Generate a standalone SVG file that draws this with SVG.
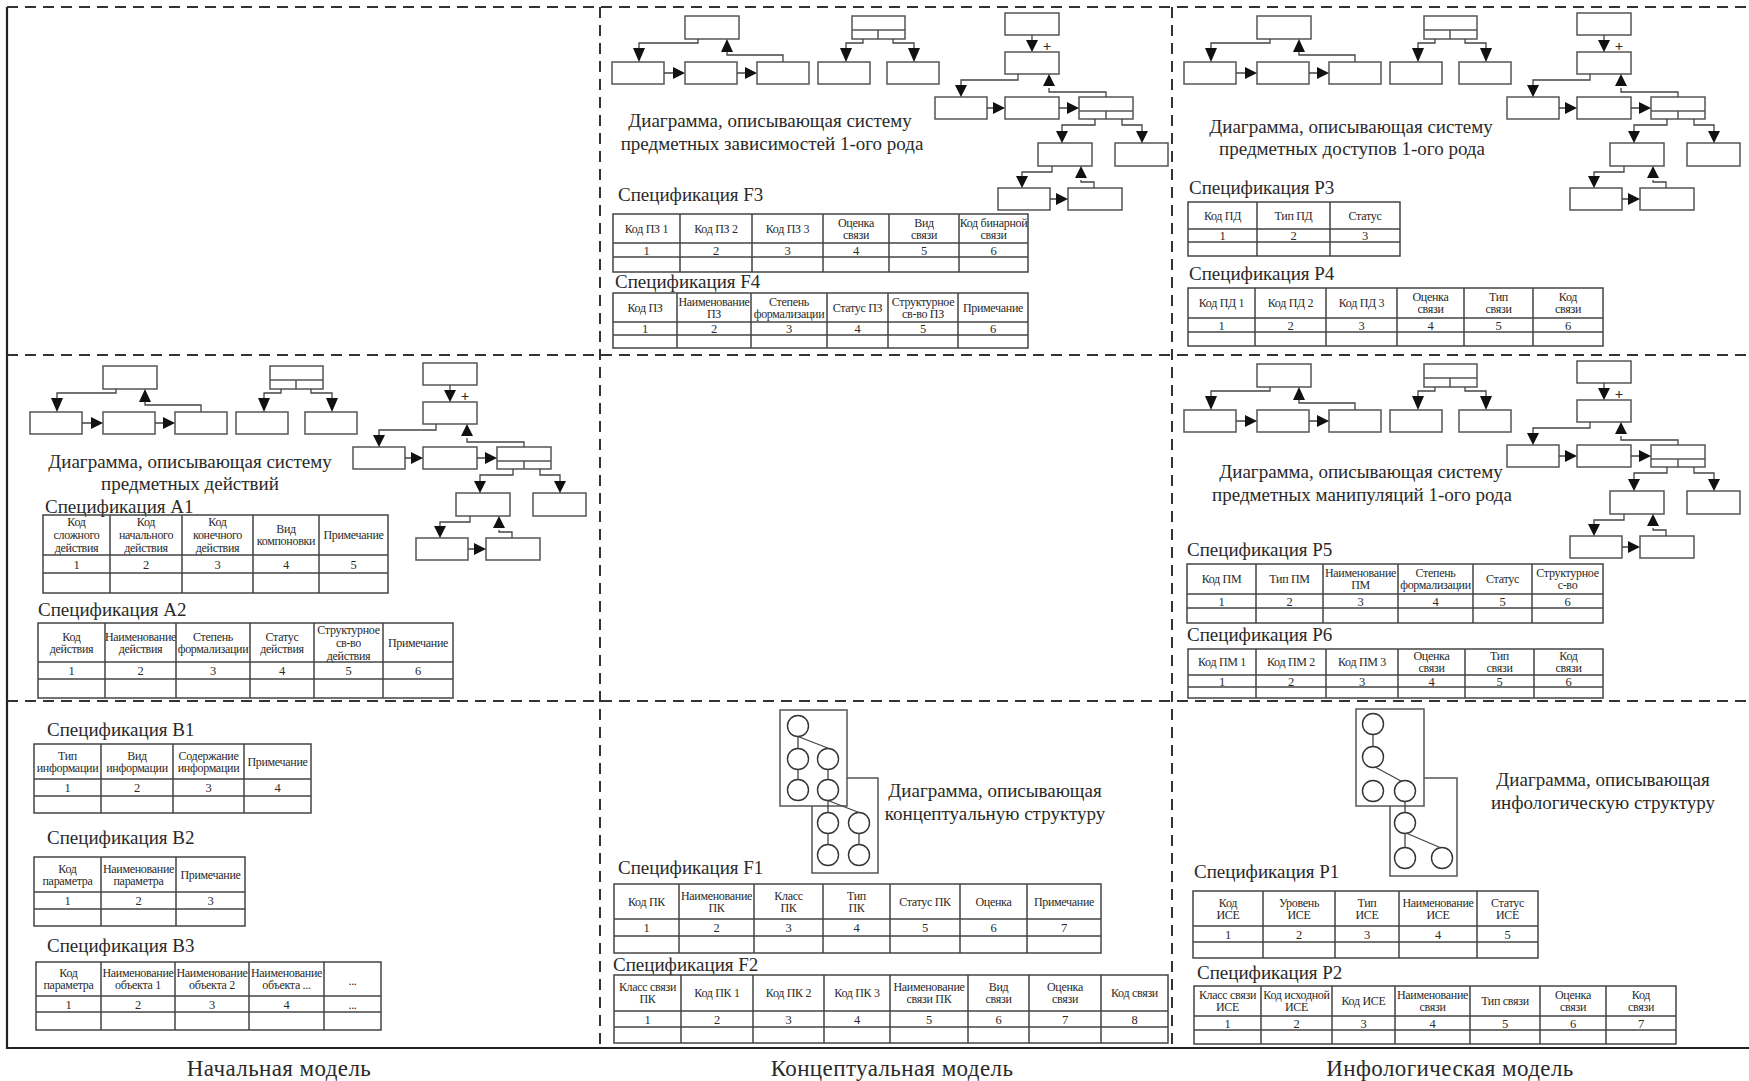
<svg xmlns="http://www.w3.org/2000/svg" width="1749" height="1081" viewBox="0 0 1749 1081">
<style>
.fr{stroke:#222;stroke-width:2.2;fill:none}
.dash{stroke:#333;stroke-width:2;stroke-dasharray:11 7;fill:none}
.bx{fill:#fff;stroke:#555;stroke-width:1.5}
.bl{stroke:#555;stroke-width:1.5;fill:none}
.cn{stroke:#444;stroke-width:1.3;fill:none}
.ah{fill:#111;stroke:none}
.tb{fill:none;stroke:#444;stroke-width:1.5}
.ci{fill:none;stroke:#333;stroke-width:1.4}
text{font-family:"Liberation Serif","Times New Roman",serif;fill:#2a2a2a}
.h{font-size:12px;text-anchor:middle;letter-spacing:-0.3px}
.n{font-size:12.5px;text-anchor:middle}
.sp{font-size:19px}
.tt{font-size:19px;text-anchor:middle}
.lb{font-size:23px;text-anchor:middle;letter-spacing:0.4px}
.pl{font-size:15px;font-weight:bold;text-anchor:middle}
</style>
<defs>
<g id="tree">
<rect class="bx" x="85" y="16" width="54" height="23"/>
<rect class="bx" x="12" y="62" width="52" height="22"/>
<rect class="bx" x="85" y="62" width="52" height="22"/>
<rect class="bx" x="157" y="62" width="52" height="22"/>
<path class="cn" d="M98 39V43H39V50M183 62V55H127V52M64 73H74M137 73H146"/>
<path class="ah" d="M33 48H45L39 62ZM121 52H133L127 39ZM73 67V79L85 73ZM145 67V79L157 73Z"/>
<rect class="bx" x="252" y="16" width="53" height="23"/>
<path class="bl" d="M252 30H305M278 30V39"/>
<rect class="bx" x="218" y="62" width="52" height="22"/>
<rect class="bx" x="287" y="62" width="52" height="22"/>
<path class="cn" d="M263 39V43H246V50M293 39V43H314V50"/>
<path class="ah" d="M240 48H252L246 62ZM308 48H320L314 62Z"/>
<rect class="bx" x="405" y="13" width="54" height="22"/>
<rect class="bx" x="405" y="52" width="54" height="22"/>
<rect class="bx" x="335" y="97" width="52" height="22"/>
<rect class="bx" x="405" y="97" width="54" height="22"/>
<rect class="bx" x="479" y="97" width="54" height="22"/>
<path class="bl" d="M479 111H533M506 111V119"/>
<rect class="bx" x="438" y="143" width="54" height="23"/>
<rect class="bx" x="515" y="143" width="53" height="23"/>
<rect class="bx" x="398" y="188" width="52" height="22"/>
<rect class="bx" x="468" y="188" width="54" height="22"/>
<path class="cn" d="M432 35V42M418 74V80H361V86M506 97V92H449V88M387 108H394M459 108H468M495 119V125H462V132M522 119V125H542V132M452 166V172H422V178M494 188V182H481V180M450 199H457"/>
<path class="ah" d="M426 40H438L432 52ZM355 85H367L361 97ZM443 86H455L449 74ZM393 102V114L405 108ZM467 102V114L479 108ZM456 131H468L462 143ZM536 131H548L542 143ZM416 176H428L422 188ZM475 178H487L481 166ZM456 193V205L468 199Z"/>
<text class="pl" x="447" y="51">+</text>
</g>
</defs>

<g id="frame">
<path class="fr" d="M7 7V1048H1749"/>
<path class="dash" d="M7 7H1749M7 355H1749M7 701H1749M600 7V1048M1172 7V1048"/>
</g>

<g id="diagram-zavisimosti">
<use href="#tree" x="600" y="0"/>
<text class="tt" x="770" y="127">Диаграмма, описывающая систему</text>
<text class="tt" x="772" y="150">предметных зависимостей 1-ого рода</text>
</g>
<g id="diagram-deistviya">
<use href="#tree" x="18" y="350"/>
<text class="tt" x="190" y="468">Диаграмма, описывающая систему</text>
<text class="tt" x="190" y="490">предметных действий</text>
</g>
<g id="diagram-dostupy">
<use href="#tree" x="1172" y="0"/>
<text class="tt" x="1351" y="133">Диаграмма, описывающая систему</text>
<text class="tt" x="1352" y="155">предметных доступов 1-ого рода</text>
</g>
<g id="diagram-manipulyacii">
<use href="#tree" x="1172" y="348"/>
<text class="tt" x="1361" y="478">Диаграмма, описывающая систему</text>
<text class="tt" x="1362" y="501">предметных манипуляций 1-ого рода</text>
</g>

<g id="diagram-konceptual">
<rect class="bx" x="812" y="778" width="66" height="95"/>
<rect class="bx" x="780" y="710" width="67" height="96"/>
<g class="ci">
<circle cx="798" cy="726" r="10.5"/><circle cx="798" cy="759" r="10.5"/><circle cx="828" cy="759" r="10.5"/>
<circle cx="798" cy="790" r="10.5"/><circle cx="828" cy="790" r="10.5"/><circle cx="828" cy="823" r="10.5"/>
<circle cx="859" cy="823" r="10.5"/><circle cx="828" cy="855" r="10.5"/><circle cx="859" cy="855" r="10.5"/>
</g>
<path class="cn" d="M798 736.5V748.5M798 736.5L829 748.5M798 769.5V779.5M828 769.5V779.5M828 800.5V812.5M828 800.5L859 812.5M828 833.5V844.5M859 833.5V844.5"/>
<text class="tt" x="995" y="797">Диаграмма, описывающая</text>
<text class="tt" x="995" y="820">концептуальную структуру</text>
</g>

<g id="diagram-infolog">
<rect class="bx" x="1390" y="778" width="67" height="98"/>
<rect class="bx" x="1356" y="709" width="68" height="97"/>
<g class="ci">
<circle cx="1373" cy="724" r="10.5"/><circle cx="1373" cy="757" r="10.5"/><circle cx="1373" cy="791" r="10.5"/>
<circle cx="1405" cy="791" r="10.5"/><circle cx="1405" cy="823" r="10.5"/><circle cx="1405" cy="858" r="10.5"/>
<circle cx="1442" cy="858" r="10.5"/>
</g>
<path class="cn" d="M1373 734.5V746.5M1375 767L1401 781M1405 801.5V812.5M1405 833.5V847.5M1406 833L1440 847.5"/>
<text class="tt" x="1603" y="786">Диаграмма, описывающая</text>
<text class="tt" x="1603" y="809">инфологическую структуру</text>
</g>

<g id="spec-f3">
<text class="sp" x="618" y="201">Спецификация F3</text>
<rect class="tb" x="613" y="214" width="415" height="58"/>
<path class="tb" d="M680 214V272M752 214V272M823 214V272M889 214V272M959 214V272M613 243H1028M613 257H1028"/>
<text class="h" x="646.5" y="232.5">Код ПЗ 1</text>
<text class="h" x="716" y="232.5">Код ПЗ 2</text>
<text class="h" x="787.5" y="232.5">Код ПЗ 3</text>
<text class="h" x="856" y="226.5">Оценка<tspan x="856" dy="12">связи</tspan></text>
<text class="h" x="924" y="226.5">Вид<tspan x="924" dy="12">связи</tspan></text>
<text class="h" x="993.5" y="226.5">Код бинарной<tspan x="993.5" dy="12">связи</tspan></text>
<text class="n" x="646.5" y="254.5">1</text><text class="n" x="716" y="254.5">2</text><text class="n" x="787.5" y="254.5">3</text>
<text class="n" x="856" y="254.5">4</text><text class="n" x="924" y="254.5">5</text><text class="n" x="993.5" y="254.5">6</text>
</g>

<g id="spec-f4">
<text class="sp" x="615" y="288">Спецификация F4</text>
<rect class="tb" x="613" y="293" width="415" height="55"/>
<path class="tb" d="M677 293V348M751 293V348M827 293V348M888 293V348M958 293V348M613 322H1028M613 335H1028"/>
<text class="h" x="645" y="311.5">Код ПЗ</text>
<text class="h" x="714" y="305.5">Наименование<tspan x="714" dy="12">ПЗ</tspan></text>
<text class="h" x="789" y="305.5">Степень<tspan x="789" dy="12">формализации</tspan></text>
<text class="h" x="857.5" y="311.5">Статус ПЗ</text>
<text class="h" x="923" y="305.5">Структурное<tspan x="923" dy="12">св-во ПЗ</tspan></text>
<text class="h" x="993" y="311.5">Примечание</text>
<text class="n" x="645" y="333">1</text><text class="n" x="714" y="333">2</text><text class="n" x="789" y="333">3</text>
<text class="n" x="857.5" y="333">4</text><text class="n" x="923" y="333">5</text><text class="n" x="993" y="333">6</text>
</g>

<g id="spec-a1">
<text class="sp" x="45" y="513">Спецификация А1</text>
<rect class="tb" x="43" y="515" width="345" height="78"/>
<path class="tb" d="M110 515V593M182 515V593M253 515V593M319 515V593M43 555H388M43 573H388"/>
<text class="h" x="76.5" y="526">Код<tspan x="76.5" dy="13">сложного</tspan><tspan x="76.5" dy="13">действия</tspan></text>
<text class="h" x="146" y="526">Код<tspan x="146" dy="13">начального</tspan><tspan x="146" dy="13">действия</tspan></text>
<text class="h" x="217.5" y="526">Код<tspan x="217.5" dy="13">конечного</tspan><tspan x="217.5" dy="13">действия</tspan></text>
<text class="h" x="286" y="533">Вид<tspan x="286" dy="12">компоновки</tspan></text>
<text class="h" x="353.5" y="539">Примечание</text>
<text class="n" x="76.5" y="568.5">1</text><text class="n" x="146" y="568.5">2</text><text class="n" x="217.5" y="568.5">3</text>
<text class="n" x="286" y="568.5">4</text><text class="n" x="353.5" y="568.5">5</text>
</g>

<g id="spec-a2">
<text class="sp" x="38" y="616">Спецификация А2</text>
<rect class="tb" x="38" y="623" width="415" height="75"/>
<path class="tb" d="M105 623V698M176 623V698M250 623V698M314 623V698M383 623V698M38 662H453M38 679H453"/>
<text class="h" x="71.5" y="640.5">Код<tspan x="71.5" dy="12">действия</tspan></text>
<text class="h" x="140.5" y="640.5">Наименование<tspan x="140.5" dy="12">действия</tspan></text>
<text class="h" x="213" y="640.5">Степень<tspan x="213" dy="12">формализации</tspan></text>
<text class="h" x="282" y="640.5">Статус<tspan x="282" dy="12">действия</tspan></text>
<text class="h" x="348.5" y="633.5">Структурное<tspan x="348.5" dy="13">св-во</tspan><tspan x="348.5" dy="13">действия</tspan></text>
<text class="h" x="418" y="646.5">Примечание</text>
<text class="n" x="71.5" y="675">1</text><text class="n" x="140.5" y="675">2</text><text class="n" x="213" y="675">3</text>
<text class="n" x="282" y="675">4</text><text class="n" x="348.5" y="675">5</text><text class="n" x="418" y="675">6</text>
</g>

<g id="spec-p3">
<text class="sp" x="1189" y="194">Спецификация Р3</text>
<rect class="tb" x="1188" y="202" width="212" height="54"/>
<path class="tb" d="M1257 202V256M1330 202V256M1188 229H1400M1188 242H1400"/>
<text class="h" x="1222.5" y="219.5">Код ПД</text>
<text class="h" x="1293.5" y="219.5">Тип ПД</text>
<text class="h" x="1365" y="219.5">Статус</text>
<text class="n" x="1222.5" y="240">1</text><text class="n" x="1293.5" y="240">2</text><text class="n" x="1365" y="240">3</text>
</g>

<g id="spec-p4">
<text class="sp" x="1189" y="280">Спецификация Р4</text>
<rect class="tb" x="1188" y="288" width="415" height="58"/>
<path class="tb" d="M1255 288V346M1326 288V346M1397 288V346M1464 288V346M1533 288V346M1188 318H1603M1188 332H1603"/>
<text class="h" x="1221.5" y="307">Код ПД 1</text>
<text class="h" x="1290.5" y="307">Код ПД 2</text>
<text class="h" x="1361.5" y="307">Код ПД 3</text>
<text class="h" x="1430.5" y="301">Оценка<tspan x="1430.5" dy="12">связи</tspan></text>
<text class="h" x="1498.5" y="301">Тип<tspan x="1498.5" dy="12">связи</tspan></text>
<text class="h" x="1568" y="301">Код<tspan x="1568" dy="12">связи</tspan></text>
<text class="n" x="1221.5" y="329.5">1</text><text class="n" x="1290.5" y="329.5">2</text><text class="n" x="1361.5" y="329.5">3</text>
<text class="n" x="1430.5" y="329.5">4</text><text class="n" x="1498.5" y="329.5">5</text><text class="n" x="1568" y="329.5">6</text>
</g>

<g id="spec-p5">
<text class="sp" x="1187" y="556">Спецификация Р5</text>
<rect class="tb" x="1187" y="564" width="416" height="59"/>
<path class="tb" d="M1256 564V623M1323 564V623M1398 564V623M1473 564V623M1532 564V623M1187 594H1603M1187 608H1603"/>
<text class="h" x="1221.5" y="583">Код ПМ</text>
<text class="h" x="1289.5" y="583">Тип ПМ</text>
<text class="h" x="1360.5" y="577">Наименование<tspan x="1360.5" dy="12">ПМ</tspan></text>
<text class="h" x="1435.5" y="577">Степень<tspan x="1435.5" dy="12">формализации</tspan></text>
<text class="h" x="1502.5" y="583">Статус</text>
<text class="h" x="1567.5" y="577">Структурное<tspan x="1567.5" dy="12">с-во</tspan></text>
<text class="n" x="1221.5" y="605.5">1</text><text class="n" x="1289.5" y="605.5">2</text><text class="n" x="1360.5" y="605.5">3</text>
<text class="n" x="1435.5" y="605.5">4</text><text class="n" x="1502.5" y="605.5">5</text><text class="n" x="1567.5" y="605.5">6</text>
</g>

<g id="spec-p6">
<text class="sp" x="1187" y="641">Спецификация Р6</text>
<rect class="tb" x="1188" y="649" width="415" height="49"/>
<path class="tb" d="M1256 649V698M1326 649V698M1398 649V698M1465 649V698M1534 649V698M1188 675H1603M1188 687H1603"/>
<text class="h" x="1222" y="666">Код ПМ 1</text>
<text class="h" x="1291" y="666">Код ПМ 2</text>
<text class="h" x="1362" y="666">Код ПМ 3</text>
<text class="h" x="1431.5" y="660">Оценка<tspan x="1431.5" dy="12">связи</tspan></text>
<text class="h" x="1499.5" y="660">Тип<tspan x="1499.5" dy="12">связи</tspan></text>
<text class="h" x="1568.5" y="660">Код<tspan x="1568.5" dy="12">связи</tspan></text>
<text class="n" x="1222" y="685.5">1</text><text class="n" x="1291" y="685.5">2</text><text class="n" x="1362" y="685.5">3</text>
<text class="n" x="1431.5" y="685.5">4</text><text class="n" x="1499.5" y="685.5">5</text><text class="n" x="1568.5" y="685.5">6</text>
</g>

<g id="spec-b1">
<text class="sp" x="47" y="736">Спецификация В1</text>
<rect class="tb" x="34" y="744" width="277" height="69"/>
<path class="tb" d="M101 744V813M173 744V813M244 744V813M34 779H311M34 796H311"/>
<text class="h" x="67.5" y="759.5">Тип<tspan x="67.5" dy="12">информации</tspan></text>
<text class="h" x="137" y="759.5">Вид<tspan x="137" dy="12">информации</tspan></text>
<text class="h" x="208.5" y="759.5">Содержание<tspan x="208.5" dy="12">информации</tspan></text>
<text class="h" x="277.5" y="765.5">Примечание</text>
<text class="n" x="67.5" y="792">1</text><text class="n" x="137" y="792">2</text><text class="n" x="208.5" y="792">3</text><text class="n" x="277.5" y="792">4</text>
</g>

<g id="spec-b2">
<text class="sp" x="47" y="844">Спецификация В2</text>
<rect class="tb" x="34" y="857" width="211" height="69"/>
<path class="tb" d="M101 857V926M176 857V926M34 892H245M34 909H245"/>
<text class="h" x="67.5" y="872.5">Код<tspan x="67.5" dy="12">параметра</tspan></text>
<text class="h" x="138.5" y="872.5">Наименование<tspan x="138.5" dy="12">параметра</tspan></text>
<text class="h" x="210.5" y="878.5">Примечание</text>
<text class="n" x="67.5" y="905">1</text><text class="n" x="138.5" y="905">2</text><text class="n" x="210.5" y="905">3</text>
</g>

<g id="spec-b3">
<text class="sp" x="47" y="952">Спецификация В3</text>
<rect class="tb" x="36" y="962" width="345" height="68"/>
<path class="tb" d="M101 962V1030M175 962V1030M249 962V1030M324 962V1030M36 996H381M36 1012H381"/>
<text class="h" x="68.5" y="977">Код<tspan x="68.5" dy="12">параметра</tspan></text>
<text class="h" x="138" y="977">Наименование<tspan x="138" dy="12">объекта 1</tspan></text>
<text class="h" x="212" y="977">Наименование<tspan x="212" dy="12">объекта 2</tspan></text>
<text class="h" x="286.5" y="977">Наименование<tspan x="286.5" dy="12">объекта ...</tspan></text>
<text class="h" x="352.5" y="985">...</text>
<text class="n" x="68.5" y="1008.5">1</text><text class="n" x="138" y="1008.5">2</text><text class="n" x="212" y="1008.5">3</text>
<text class="n" x="286.5" y="1008.5">4</text><text class="h" x="352.5" y="1008.5">...</text>
</g>

<g id="spec-f1">
<text class="sp" x="618" y="874">Спецификация F1</text>
<rect class="tb" x="614" y="884" width="487" height="69"/>
<path class="tb" d="M679 884V953M754 884V953M823 884V953M890 884V953M960 884V953M1027 884V953M614 919H1101M614 936H1101"/>
<text class="h" x="646.5" y="905.5">Код ПК</text>
<text class="h" x="716.5" y="899.5">Наименование<tspan x="716.5" dy="12">ПК</tspan></text>
<text class="h" x="788.5" y="899.5">Класс<tspan x="788.5" dy="12">ПК</tspan></text>
<text class="h" x="856.5" y="899.5">Тип<tspan x="856.5" dy="12">ПК</tspan></text>
<text class="h" x="925" y="905.5">Статус ПК</text>
<text class="h" x="993.5" y="905.5">Оценка</text>
<text class="h" x="1064" y="905.5">Примечание</text>
<text class="n" x="646.5" y="932">1</text><text class="n" x="716.5" y="932">2</text><text class="n" x="788.5" y="932">3</text><text class="n" x="856.5" y="932">4</text>
<text class="n" x="925" y="932">5</text><text class="n" x="993.5" y="932">6</text><text class="n" x="1064" y="932">7</text>
</g>

<g id="spec-f2">
<text class="sp" x="613" y="971">Спецификация F2</text>
<rect class="tb" x="614" y="975" width="554" height="68"/>
<path class="tb" d="M681 975V1043M753 975V1043M824 975V1043M890 975V1043M968 975V1043M1029 975V1043M1101 975V1043M614 1011H1168M614 1027H1168"/>
<text class="h" x="647.5" y="991">Класс связи<tspan x="647.5" dy="12">ПК</tspan></text>
<text class="h" x="717" y="997">Код ПК 1</text>
<text class="h" x="788.5" y="997">Код ПК 2</text>
<text class="h" x="857" y="997">Код ПК 3</text>
<text class="h" x="929" y="991">Наименование<tspan x="929" dy="12">связи ПК</tspan></text>
<text class="h" x="998.5" y="991">Вид<tspan x="998.5" dy="12">связи</tspan></text>
<text class="h" x="1065" y="991">Оценка<tspan x="1065" dy="12">связи</tspan></text>
<text class="h" x="1134.5" y="997">Код связи</text>
<text class="n" x="647.5" y="1023.5">1</text><text class="n" x="717" y="1023.5">2</text><text class="n" x="788.5" y="1023.5">3</text><text class="n" x="857" y="1023.5">4</text>
<text class="n" x="929" y="1023.5">5</text><text class="n" x="998.5" y="1023.5">6</text><text class="n" x="1065" y="1023.5">7</text><text class="n" x="1134.5" y="1023.5">8</text>
</g>

<g id="spec-p1">
<text class="sp" x="1194" y="878">Спецификация Р1</text>
<rect class="tb" x="1193" y="891" width="345" height="67"/>
<path class="tb" d="M1263 891V958M1335 891V958M1399 891V958M1477 891V958M1193 926H1538M1193 942H1538"/>
<text class="h" x="1228" y="906.5">Код<tspan x="1228" dy="12">ИСЕ</tspan></text>
<text class="h" x="1299" y="906.5">Уровень<tspan x="1299" dy="12">ИСЕ</tspan></text>
<text class="h" x="1367" y="906.5">Тип<tspan x="1367" dy="12">ИСЕ</tspan></text>
<text class="h" x="1438" y="906.5">Наименование<tspan x="1438" dy="12">ИСЕ</tspan></text>
<text class="h" x="1507.5" y="906.5">Статус<tspan x="1507.5" dy="12">ИСЕ</tspan></text>
<text class="n" x="1228" y="938.5">1</text><text class="n" x="1299" y="938.5">2</text><text class="n" x="1367" y="938.5">3</text>
<text class="n" x="1438" y="938.5">4</text><text class="n" x="1507.5" y="938.5">5</text>
</g>

<g id="spec-p2">
<text class="sp" x="1197" y="979">Спецификация Р2</text>
<rect class="tb" x="1194" y="986" width="482" height="58"/>
<path class="tb" d="M1261 986V1044M1332 986V1044M1395 986V1044M1470 986V1044M1540 986V1044M1606 986V1044M1194 1016H1676M1194 1030H1676"/>
<text class="h" x="1227.5" y="999">Класс связи<tspan x="1227.5" dy="12">ИСЕ</tspan></text>
<text class="h" x="1296.5" y="999">Код исходной<tspan x="1296.5" dy="12">ИСЕ</tspan></text>
<text class="h" x="1363.5" y="1005">Код ИСЕ</text>
<text class="h" x="1432.5" y="999">Наименование<tspan x="1432.5" dy="12">связи</tspan></text>
<text class="h" x="1505" y="1005">Тип связи</text>
<text class="h" x="1573" y="999">Оценка<tspan x="1573" dy="12">связи</tspan></text>
<text class="h" x="1641" y="999">Код<tspan x="1641" dy="12">связи</tspan></text>
<text class="n" x="1227.5" y="1027.5">1</text><text class="n" x="1296.5" y="1027.5">2</text><text class="n" x="1363.5" y="1027.5">3</text><text class="n" x="1432.5" y="1027.5">4</text>
<text class="n" x="1505" y="1027.5">5</text><text class="n" x="1573" y="1027.5">6</text><text class="n" x="1641" y="1027.5">7</text>
</g>

<g id="labels">
<text class="lb" x="279" y="1076">Начальная модель</text>
<text class="lb" x="892" y="1076">Концептуальная модель</text>
<text class="lb" x="1450" y="1076">Инфологическая модель</text>
</g>
</svg>
